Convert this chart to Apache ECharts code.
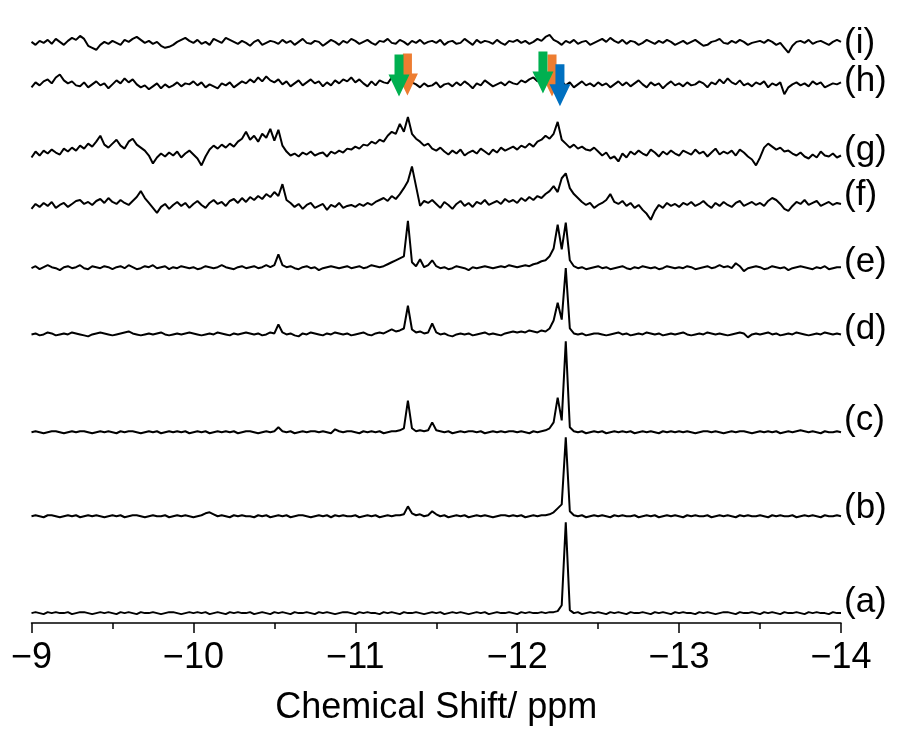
<!DOCTYPE html>
<html><head><meta charset="utf-8">
<script src="https://cdn.jsdelivr.net/npm/echarts@6/dist/echarts.min.js"></script>
<style>html,body{margin:0;padding:0;background:#fff}#c{width:898px;height:731px}</style>
</head><body><div id="c"></div>
<script>
// chemical shift sampling: -9 ... -14 ppm, step 0.025 ppm (201 points)
const ppmStart = -9, ppmStep = -0.025, nPoints = 201;
const labels = ['(a)','(b)','(c)','(d)','(e)','(f)','(g)','(h)','(i)'];
const offsets = [10, 108, 193, 292, 359, 422, 475, 544, 587];
const tickLabels = [-9, -10, -11, -12, -13, -14];

const specA = [0,1,0,-1,1,0,1,0,0,1,-1,0,1,1,0,-1,0,1,0,1,
0,-1,1,0,1,0,-1,1,0,0,1,0,-1,0,1,1,0,-1,0,1,
0,1,0,1,-1,0,1,0,-1,1,0,1,0,0,1,-1,0,1,0,-1,
1,0,1,0,-1,1,0,0,1,0,-1,1,0,1,0,-1,0,1,1,0,
-1,1,0,1,0,0,-1,1,0,1,0,-1,1,0,0,1,0,-1,0,1,
0,1,-1,0,1,0,1,0,-1,0,1,0,1,-1,0,1,0,0,1,0,
-1,1,0,1,0,0,1,0,1,1,2,8,92,3,0,1,-1,0,1,0,
1,0,-1,1,0,1,0,-1,1,0,0,1,0,-1,1,0,1,0,-1,1,
0,1,0,0,-1,1,0,1,0,-1,0,1,1,0,-1,1,0,0,1,0,
-1,1,0,1,0,-1,1,0,0,1,0,-1,1,0,1,0,0,-1,1,0,
0];
const specB = [0,1,0,-1,1,1,0,-1,0,1,0,1,-1,0,1,0,1,0,-1,0,
1,0,1,-1,0,1,1,0,-1,0,1,0,0,1,-1,0,1,0,1,0,
-1,0,1,3,4,2,0,1,0,-1,1,0,1,0,0,-1,1,0,1,-1,
0,1,0,1,-1,0,1,1,0,-1,0,1,0,1,-1,1,0,1,0,0,
1,-1,0,1,0,1,-1,0,1,0,1,1,2,10,3,1,2,0,1,5,
2,0,1,-1,0,1,0,1,-1,0,1,0,1,0,-1,0,1,1,0,1,
0,1,-1,0,1,0,1,1,2,4,8,12,80,5,1,0,1,-1,0,1,
0,1,0,-1,1,0,1,0,0,1,-1,0,1,0,1,-1,0,1,0,1,
0,-1,1,0,1,0,0,1,-1,0,1,0,1,0,-1,1,0,1,0,0,
1,0,-1,1,0,1,0,0,1,-1,0,1,0,1,0,-1,1,0,0,1,
0];
const specC = [0,1,0,-1,0,1,1,0,-1,0,1,0,1,1,0,-1,0,1,0,1,
0,-1,1,0,1,1,0,-1,0,1,0,1,-1,0,1,0,1,0,1,-1,
0,1,0,1,-1,0,1,0,1,0,1,-1,0,1,1,0,-1,0,1,0,
1,5,1,0,1,-1,0,1,0,1,1,0,1,0,-1,3,1,0,1,1,
0,-1,1,0,1,0,1,-1,0,1,1,2,4,32,4,1,2,1,2,10,
2,1,0,1,-1,0,1,0,1,1,0,1,-1,0,1,0,1,0,1,1,
0,1,0,-1,1,0,1,2,4,10,35,12,92,5,1,0,1,-1,0,1,
0,1,-1,0,1,0,1,0,1,-1,0,1,0,1,0,-1,1,0,1,0,
1,0,1,0,-1,0,1,1,0,1,0,-1,0,1,0,1,1,0,-1,0,
1,0,1,0,1,-1,0,1,0,1,2,1,0,1,0,-1,1,0,0,1,
0];
const specD = [0,1,-1,0,2,1,-1,0,1,0,2,1,0,-1,-2,0,1,2,1,0,
-1,0,1,2,3,1,0,-1,0,1,0,1,2,0,-1,0,1,0,1,2,
1,0,-1,0,1,0,2,1,0,-1,1,0,1,2,1,0,1,-1,0,2,
1,10,2,0,1,-1,-2,1,0,2,1,0,-1,1,0,2,1,0,1,-1,
0,1,2,0,-1,1,2,1,3,5,3,4,6,29,5,2,3,1,2,11,
2,0,1,-1,-2,0,1,0,1,-1,0,1,2,0,1,0,-1,1,2,3,
2,3,2,4,3,2,4,3,6,14,32,15,67,6,1,0,1,-1,0,1,
1,0,-1,0,1,2,0,1,-1,0,1,0,2,1,0,1,-1,0,1,0,
1,2,0,-1,0,1,0,2,1,0,1,0,-1,0,1,2,1,-3,0,1,
0,1,2,0,1,-1,0,1,0,2,1,0,-1,0,1,0,2,1,0,1,
0];
const specE = [0,2,-1,1,3,1,0,-2,1,2,0,1,3,0,-1,2,1,0,2,1,
-1,1,2,0,3,1,-1,0,2,1,3,0,1,2,-1,1,0,2,1,0,
1,-1,0,2,1,0,1,3,1,0,-1,1,2,0,1,2,0,1,3,1,
3,14,3,1,2,0,-1,1,2,0,1,-2,0,1,2,1,0,1,2,0,
1,2,0,1,3,2,1,2,4,6,8,10,12,48,6,2,9,1,3,8,
2,0,1,-1,0,2,1,0,-2,1,0,1,2,1,0,1,2,1,3,2,
1,2,3,2,4,5,7,8,12,20,44,19,46,8,2,0,1,-1,0,1,
2,0,1,-1,0,1,2,0,-1,1,0,2,1,0,1,-1,0,2,1,0,
1,0,2,1,-1,0,1,2,0,1,3,1,2,0,5,2,-3,0,1,2,
1,-1,0,2,1,0,1,-2,0,1,2,1,0,-1,1,0,2,-1,0,1,
1];
const specF = [-3,2,-1,3,0,4,-2,1,3,-1,2,5,6,2,4,1,5,7,3,8,
4,2,6,3,1,5,9,15,8,3,-2,-7,-1,2,-3,1,4,0,3,-2,
2,5,1,-2,3,6,2,4,0,5,7,3,8,4,9,6,10,7,12,9,
14,10,22,6,3,-1,2,-3,1,3,-2,0,2,-4,1,-1,3,-2,0,1,
-1,2,0,3,1,4,6,8,5,10,7,12,18,25,40,20,0,5,3,6,
2,-2,4,1,-3,2,5,0,3,-1,4,2,6,1,3,5,2,7,4,6,
3,8,5,9,6,10,8,12,15,20,14,28,33,18,12,8,4,1,3,-2,
1,3,6,12,4,2,5,0,3,-2,1,-4,-8,-14,-5,1,-2,3,0,2,
-1,3,1,4,0,2,5,1,-2,3,0,4,1,-1,3,5,0,2,4,1,
3,0,5,8,6,2,-3,-5,0,4,2,6,1,3,5,0,2,4,1,3,
2];
const specG = [-4,2,-2,3,0,4,1,-1,5,2,6,3,8,5,10,7,12,18,9,6,
10,14,8,5,12,15,9,6,3,-2,-10,-4,0,-3,1,-2,2,-4,0,3,
-1,-5,-12,-3,4,8,5,9,6,10,7,12,15,22,14,18,12,20,16,25,
13,24,8,2,-2,0,-3,1,-1,2,-2,0,1,-3,2,0,3,1,5,4,
7,5,9,8,12,10,14,12,18,22,20,30,22,37,20,15,12,8,10,5,
3,6,2,-1,3,0,4,-2,1,3,0,5,2,-1,4,1,6,3,5,7,
4,8,6,10,7,12,14,18,15,20,32,14,10,6,9,5,7,4,3,6,
2,-2,1,-5,-3,-8,0,-4,2,-1,3,0,-2,4,1,-3,2,-1,3,0,
-2,3,1,-1,4,0,2,-3,1,5,-1,2,0,3,-2,4,1,-3,-6,-12,
-4,6,10,7,4,6,2,3,0,-2,1,-3,-5,-1,-4,2,-2,-3,0,-4,
-2];
const specH = [-2,3,0,4,6,2,8,11,5,2,4,0,-1,3,-2,1,4,0,2,-3,
1,5,2,7,3,6,1,-2,0,-4,-1,2,-3,1,-2,0,3,-1,2,1,
4,0,3,-2,1,-1,-3,2,0,3,-2,1,4,2,6,3,8,4,9,5,
3,6,1,4,-1,2,5,0,3,6,2,4,-1,3,0,5,2,6,4,8,
3,6,2,-1,4,0,5,3,2,8,6,7,4,5,3,1,-2,2,-1,0,
3,-2,1,2,-1,3,0,4,1,-3,2,0,5,2,-1,1,3,0,4,2,
1,5,3,6,8,4,7,5,3,6,2,4,0,3,-2,1,4,0,2,-1,
3,0,2,-2,1,4,0,3,-1,2,5,1,-2,3,0,2,-3,1,4,0,
2,-1,3,0,1,4,2,-2,3,1,6,2,7,3,1,5,0,2,-1,3,
1,4,-2,2,0,3,-9,-2,1,3,0,2,-1,4,1,3,-2,0,2,1,
3];
const specI = [1,-2,2,0,3,-1,4,1,-2,2,5,3,7,4,-3,-5,-7,-2,1,-1,
2,0,-2,3,1,4,6,3,0,2,-1,1,-3,-5,-4,-2,1,3,5,2,
0,3,-1,1,-2,4,2,0,5,3,1,-1,2,0,-3,1,3,-2,0,2,
1,-1,3,0,2,-2,1,4,0,-1,2,1,-3,0,3,1,-2,2,0,4,
2,-1,1,3,0,-2,2,1,4,0,-1,3,1,-2,2,0,3,-1,1,2,
0,3,-2,1,2,-1,0,4,1,-2,3,0,2,1,-1,3,0,-2,2,1,
3,0,2,-1,1,4,2,6,8,3,1,-2,2,0,3,-1,1,2,-2,0,
2,4,1,5,2,0,3,-1,2,1,-2,0,3,1,-1,2,0,3,1,-2,
0,2,-1,1,3,0,-3,-2,1,2,4,0,-1,2,0,3,1,-2,0,1,
2,0,3,1,-2,0,-5,-10,-3,1,2,0,3,-1,1,2,0,-2,1,3,
1];
const spectra = [specA, specB, specC, specD, specE, specF, specG, specH, specI];

// arrow markers (ppm position, level)
const arrowOrange = [[-11.322, 555], [-12.215, 554]];
const arrowGreen  = [[-11.270, 554], [-12.159, 557]];
const arrowBlue   = [[-12.264, 544]];

// label vertical nudges (style)
const labelDy = [-11, -8, -12, -5, -5, -9, -5, -1, 1];

const ppm = [];
for (let k = 0; k < nPoints; k++) ppm.push(+(ppmStart + ppmStep * k).toFixed(3));

const FONT = '"Liberation Sans", Arial, sans-serif';
const arrowPath = 'path://M6,0 L15,0 L15,20 L21,20 L10.5,42 L0,20 L6,20 Z';

const series = spectra.map((vals, j) => ({
  name: labels[j],
  type: 'line',
  symbol: 'none',
  animation: false,
  data: vals.map((v, i) => [ppm[i], offsets[j] + v]),
  lineStyle: { color: '#000', width: 2 },
  endLabel: {
    show: true, formatter: labels[j], color: '#000', fontSize: 35,
    fontFamily: FONT, distance: 0, align: 'left', verticalAlign: 'middle',
    offset: [3, labelDy[j]]
  },
  z: 2
}));
function arrowSeries(data, color) {
  return { type: 'scatter', data: data, symbol: arrowPath, symbolSize: [21, 42],
    itemStyle: { color: color, opacity: 1 }, animation: false, z: 5, silent: true };
}
series.push(arrowSeries(arrowOrange, '#ED7D31'));
series.push(arrowSeries(arrowGreen, '#00B050'));
series.push(arrowSeries(arrowBlue, '#0070C0'));

const chart = echarts.init(document.getElementById('c'), null, { renderer: 'canvas' });
chart.setOption({
  backgroundColor: '#fff',
  animation: false,
  grid: { left: 31.5, right: 57, top: 30, bottom: 101 },
  xAxis: {
    type: 'value', min: -14, max: -9, interval: 1, inverse: true,
    name: 'Chemical Shift/ ppm', nameLocation: 'middle', nameGap: 67,
    nameTextStyle: { fontSize: 36, color: '#000', fontFamily: FONT },
    axisLine: { show: true, onZero: false, lineStyle: { color: '#000', width: 1.5 } },
    axisTick: { show: true, inside: false, length: 10, lineStyle: { color: '#000', width: 1.5 } },
    minorTick: { show: true, splitNumber: 2, length: 6, lineStyle: { color: '#000', width: 1.5 } },
    splitLine: { show: false },
    axisLabel: {
      fontSize: 36, color: '#000', fontFamily: FONT, margin: 17,
      formatter: v => tickLabels.includes(Math.round(v)) ? String(Math.round(v)).replace('-', '\u2212') : ''
    }
  },
  yAxis: { type: 'value', min: 0, max: 600, show: false },
  series: series
});
</script></body></html>
